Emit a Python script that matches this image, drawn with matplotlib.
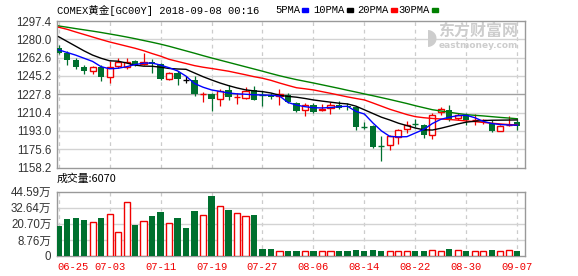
import numpy as np
import matplotlib
matplotlib.use('Agg')
import matplotlib.pyplot as plt

# ── data ─────────────────────────────────────────────────────────────────────
tick_labels = ['06-25', '07-03', '07-11', '07-19', '07-27',
               '08-06', '08-14', '08-22', '08-30', '09-07']
price_ticks = [1297.4, 1280.0, 1262.6, 1245.2, 1227.8, 1210.4, 1193.0, 1175.6, 1158.2]
vol_ticks = [8.76, 20.70, 32.64, 44.59]

opens = [1271.5, 1267.1, 1260.7, 1253.5, 1250.2, 1253.5, 1243.9, 1254.4, 1253.7, 1259.2,
         1256.9, 1258.5, 1256.6, 1242.6, 1248.1, 1241.1, 1241.1, 1228.1, 1228.1, 1223.6,
         1231.6, 1225.2, 1224.3, 1231.6, 1226.8, 1226.8, 1226.2, 1227.1, 1219.2, 1212.6,
         1217.9, 1212.6, 1214.8, 1217.3, 1216.4, 1215.4, 1196.7, 1197.9, 1178.9, 1179.3,
         1187.2, 1195.1, 1199.3, 1198.3, 1188.8, 1210.9, 1213.1, 1205.2, 1207.8, 1203.0,
         1203.0, 1200.5, 1193.2, 1198.5, 1201.4]
highs = [1274.7, 1268.7, 1262.3, 1255.9, 1255.0, 1255.9, 1259.2, 1262.3, 1262.3, 1260.7,
         1267.1, 1261.4, 1257.5, 1248.5, 1249.7, 1244.9, 1244.9, 1230.0, 1229.0, 1233.1,
         1236.9, 1229.0, 1234.4, 1235.4, 1231.2, 1229.0, 1233.1, 1229.0, 1220.0, 1219.5,
         1219.5, 1218.6, 1220.2, 1221.1, 1219.5, 1216.4, 1201.4, 1198.9, 1187.8, 1189.4,
         1194.5, 1202.1, 1204.0, 1199.5, 1210.0, 1215.4, 1217.3, 1210.0, 1210.0, 1209.0,
         1204.5, 1203.6, 1198.5, 1206.9, 1203.6]
lows = [1265.8, 1255.9, 1251.8, 1247.4, 1247.4, 1240.7, 1238.5, 1252.8, 1252.1, 1254.4,
        1255.9, 1248.1, 1241.7, 1241.1, 1236.9, 1238.5, 1226.5, 1220.4, 1211.6, 1216.4,
        1222.6, 1218.8, 1223.6, 1222.1, 1216.9, 1223.6, 1217.9, 1219.2, 1211.2, 1207.4,
        1210.0, 1211.6, 1209.0, 1214.1, 1213.0, 1194.1, 1195.1, 1176.7, 1164.1, 1175.1,
        1180.8, 1191.0, 1197.0, 1186.2, 1185.5, 1208.4, 1202.1, 1203.6, 1198.9, 1199.0,
        1200.0, 1191.9, 1192.6, 1197.3, 1194.1]
closes = [1266.8, 1260.7, 1253.7, 1250.2, 1253.5, 1243.9, 1253.5, 1258.2, 1258.2, 1255.9,
          1258.5, 1256.9, 1242.3, 1248.1, 1242.6, 1241.1, 1228.1, 1228.2, 1223.6, 1231.2,
          1225.2, 1225.3, 1231.2, 1222.6, 1226.7, 1225.2, 1227.6, 1220.7, 1212.2, 1217.3,
          1210.9, 1214.1, 1217.3, 1214.8, 1215.5, 1196.7, 1196.6, 1177.7, 1178.8, 1187.8,
          1193.5, 1198.9, 1199.2, 1188.8, 1207.8, 1214.1, 1203.6, 1208.4, 1203.0, 1203.6,
          1203.1, 1192.6, 1197.9, 1198.6, 1197.3]

ma5 = [1270.0, 1267.5, 1265.0, 1262.0, 1259.0, 1254.0, 1252.0, 1252.5, 1254.0, 1256.0,
       1257.3, 1257.5, 1255.5, 1253.0, 1250.0, 1245.0, 1238.0, 1234.5, 1231.9, 1230.5,
       1229.0, 1228.2, 1227.8, 1227.3, 1227.1, 1226.8, 1226.2, 1220.0, 1217.5, 1216.0,
       1215.0, 1214.8, 1215.2, 1216.0, 1216.4, 1211.5, 1209.0, 1200.5, 1193.0, 1187.7,
       1187.3, 1187.5, 1191.0, 1194.5, 1200.0, 1204.0, 1206.0, 1207.5, 1207.8, 1205.5,
       1202.0, 1200.0, 1199.0, 1198.6, 1198.4]
ma10 = [1282.5, 1278.0, 1273.5, 1269.0, 1265.0, 1262.0, 1259.6, 1259.2, 1257.5, 1255.5,
        1254.5, 1254.4, 1253.5, 1252.3, 1251.8, 1251.5, 1248.0, 1244.5, 1241.4, 1238.5,
        1236.0, 1233.8, 1232.0, 1231.0, 1230.3, 1229.0, 1226.8, 1225.8, 1225.0, 1223.8,
        1222.4, 1221.3, 1220.3, 1219.3, 1218.6, 1216.5, 1213.0, 1209.5, 1206.0, 1203.3,
        1200.3, 1198.0, 1195.7, 1194.0, 1193.8, 1195.5, 1197.5, 1199.6, 1201.3, 1202.2,
        1202.8, 1203.1, 1203.2, 1203.3, 1203.4]
ma20 = [1291.5, 1289.5, 1287.0, 1284.6, 1282.2, 1279.8, 1277.5, 1275.5, 1273.5, 1271.5,
        1269.2, 1266.5, 1264.0, 1261.0, 1259.0, 1257.0, 1255.0, 1253.5, 1252.3, 1251.0,
        1249.7, 1248.0, 1246.3, 1244.5, 1243.0, 1241.0, 1238.5, 1236.2, 1234.0, 1233.0,
        1231.9, 1230.3, 1228.7, 1227.0, 1225.3, 1223.8, 1222.4, 1219.5, 1216.5, 1213.5,
        1211.0, 1208.5, 1206.5, 1205.5, 1204.8, 1204.3, 1203.8, 1203.2, 1202.4, 1201.8,
        1201.0, 1200.3, 1199.6, 1199.0, 1198.6]
ma30 = [1292.7, 1291.5, 1290.2, 1289.0, 1287.8, 1286.5, 1285.1, 1283.7, 1282.2, 1280.6,
        1278.9, 1277.2, 1275.4, 1273.4, 1271.2, 1269.0, 1266.8, 1264.5, 1262.3, 1260.2,
        1258.1, 1256.0, 1253.9, 1251.8, 1249.7, 1247.5, 1245.4, 1243.5, 1241.7, 1240.1,
        1238.5, 1236.8, 1235.1, 1233.4, 1231.6, 1229.9, 1228.1, 1226.4, 1224.6, 1222.8,
        1220.9, 1219.0, 1216.9, 1215.0, 1213.1, 1211.9, 1210.7, 1209.5, 1208.4, 1207.8,
        1207.2, 1206.5, 1205.8, 1205.2, 1204.5]

volumes = [19.3, 24.5, 25.3, 23.8, 22.1, 25.3, 28.0, 14.7, 36.7, 20.1,
           22.8, 26.5, 29.7, 21.3, 25.3, 17.8, 30.5, 27.3, 41.6, 33.7,
           31.2, 28.8, 26.5, 27.5, 2.0, 2.0, 0.5, 0.76, 0.76, 0.31,
           0.76, 0.31, 0.31, 0.76, 0.76, 1.5, 0.76, 1.5, 0.76, 0.31,
           0.31, 0.31, 0.76, 0.76, 1.05, 0.31, 2.0, 1.05, 0.76, 0.31,
           0.31, 1.5, 0.31, 1.05, 0.61]

# ── styling ──────────────────────────────────────────────────────────────────
RED = '#F00000'
GRN = '#00702F'
GRID = '#D3D3D3'
FRAME = '#999999'
CJK = ['Noto Sans CJK SC', 'DejaVu Sans']
MONO = ['Liberation Mono', 'Noto Sans CJK SC']
plt.rcParams['font.family'] = ['Liberation Sans', 'Noto Sans CJK SC']

o, h, l, c = map(np.array, (opens, highs, lows, closes))
x = np.arange(len(o))
col = np.where(c > o, RED, np.where(c < o, GRN, 'black'))
vcol = np.where(c > o, RED, GRN)
W = 0.72
xl = (-0.19, 54.9)

fig = plt.figure(figsize=(5.78, 2.76), dpi=100)
ax = fig.add_axes([0.0986, 0.3931, 0.8097, 0.5308])
av = fig.add_axes([0.0986, 0.0725, 0.8097, 0.2329])

for a in (ax, av):
    a.set_xlim(*xl)
    for s in a.spines.values():
        s.set_color(FRAME); s.set_linewidth(1.0)
    a.tick_params(length=0, pad=4, labelsize=8.3, colors='#333333')
    a.set_xticks(x[::6])
    a.set_xticklabels([])
    for xx in x[::6]:
        a.axvline(xx, color='#CCCCCC', lw=0.9, ls=(0, (3, 3)), zorder=0)

# ── price panel ──────────────────────────────────────────────────────────────
ax.set_ylim(1158.2, 1297.4)
ax.set_yticks(price_ticks)
ax.set_yticklabels([f'{t:.1f}' for t in price_ticks])
for t in price_ticks[1:-1]:
    ax.axhline(t, color=('#A0A0A0' if t == 1227.8 else GRID), lw=1.0, zorder=0)

ax.vlines(x, l, h, colors=col, lw=0.9, zorder=2)
body = np.abs(c - o)
for i in range(len(x)):
    if body[i] < 0.3:
        ax.hlines(o[i], x[i] - W / 2, x[i] + W / 2, colors=col[i], lw=1.0, zorder=3)
    elif c[i] > o[i]:
        ax.bar(x[i], body[i], bottom=o[i], width=W, facecolor='white',
               edgecolor=RED, lw=1.0, zorder=3)
    else:
        ax.bar(x[i], body[i], bottom=c[i], width=W, color=GRN, lw=0, zorder=3)

ax.plot(x, ma30, color='#008000', lw=1.0, zorder=4)
ax.plot(x, ma20, color='#FF0000', lw=1.0, zorder=4)
ax.plot(x, ma10, color='black', lw=1.0, zorder=4)
ax.plot(x, ma5, color='#0000FF', lw=1.0, zorder=4)

# watermark
ax.text(0.985, 0.935, '东方财富网', transform=ax.transAxes, ha='right', va='center',
        fontsize=11.5, fontweight='bold', color='#CDCDCD', family=CJK, zorder=1)
ax.text(0.985, 0.83, 'eastmoney.com', transform=ax.transAxes, ha='right', va='center',
        fontsize=6.5, fontweight='bold', color='#CDCDCD', family='DejaVu Sans', zorder=1)
ax.text(0.80, 0.89, '◗', transform=ax.transAxes, ha='center', va='center',
        fontsize=16, color='#CDCDCD', family='DejaVu Sans', zorder=1)

# ── volume panel ─────────────────────────────────────────────────────────────
vmin = -3.17
av.set_ylim(vmin, 44.59)
av.set_yticks([vmin] + vol_ticks)
av.set_yticklabels(['0'] + [f'{t:.2f}万' for t in vol_ticks])
for t in vol_ticks[:-1]:
    av.axhline(t, color=GRID, lw=1.0, zorder=0)
vol = np.array(volumes)
for i in range(len(x)):
    if vcol[i] == RED:
        av.bar(x[i], vol[i] - vmin, bottom=vmin, width=W, facecolor='white',
               edgecolor=RED, lw=1.0, zorder=3)
    else:
        av.bar(x[i], vol[i] - vmin, bottom=vmin, width=W, color=GRN, lw=0, zorder=3)

for k, xx in enumerate(x[::6]):
    av.text(xx if k else xx - 0.2, vmin - 4.5, tick_labels[k], color=RED,
            ha=('left' if k == 0 else 'center'), va='top', fontsize=7.6, family=MONO)

# ── header texts ─────────────────────────────────────────────────────────────
fig.text(57 / 578, 1 - 10 / 276, 'COMEX黄金[GC00Y] 2018-09-08 00:16', ha='left',
         va='center', fontsize=7.6, family=MONO, color='black')
leg = [('5PMA', '#0000FF', 275), ('10PMA', 'black', 313),
       ('20PMA', '#FF0000', 357), ('30PMA', '#008000', 398)]
for name, cc, px in leg:
    fig.text(px / 578, 1 - 10 / 276, name, ha='left', va='center',
             fontsize=7.6, family=MONO, color='black')
    w = len(name) * 6.35
    fig.patches.append(plt.Rectangle(((px + w + 2) / 578, 1 - 11.5 / 276), 6 / 578, 3 / 276,
                                     transform=fig.transFigure, color=cc))
fig.text(57 / 578, 1 - 179 / 276, '成交量:6070', ha='left', va='center',
         fontsize=7.8, family=['Noto Sans CJK SC'], color='black')

fig.savefig('out.png', dpi=100)
